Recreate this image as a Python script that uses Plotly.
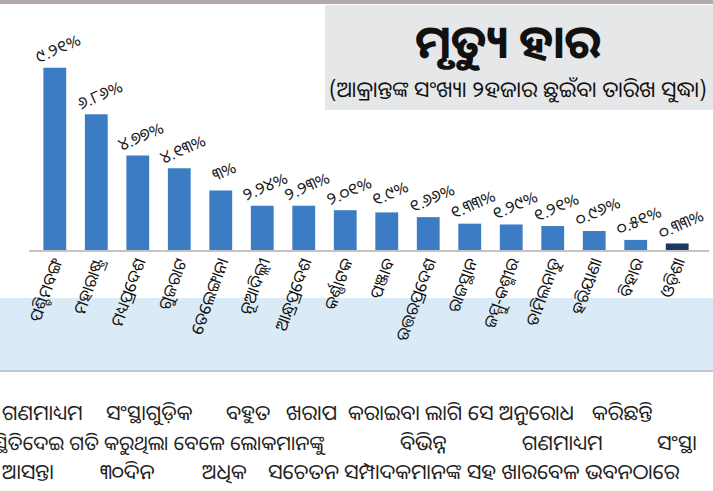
import plotly.graph_objects as go

states = ["ପଶ୍ଚିମବଙ୍ଗ", "ମହାରାଷ୍ଟ୍ର", "ମଧ୍ୟପ୍ରଦେଶ", "ଗୁଜରାଟ", "ତେଲେଙ୍ଗାନା", "ନୂଆଦିଲ୍ଲୀ",
          "ଆନ୍ଧ୍ରପ୍ରଦେଶ", "କର୍ଣ୍ଣାଟକ", "ପଞ୍ଜାବ", "ଉତ୍ତରପ୍ରଦେଶ", "ରାଜସ୍ଥାନ", "ଜମ୍ମୁ-କଶ୍ମୀର",
          "ତାମିଲନାଡୁ", "ହରିୟାଣା", "ବିହାର", "ଓଡ଼ିଶା"]
rates = [9.21, 6.86, 4.77, 4.13, 3.0, 2.24, 2.23, 2.01, 1.9, 1.66, 1.33, 1.29, 1.21, 0.96, 0.51, 0.33]
rate_labels = ["୯.୨୧%", "୬.୮୬%", "୪.୭୭%", "୪.୧୩%", "୩%", "୨.୨୪%", "୨.୨୩%", "୨.୦୧%", "୧.୯%",
               "୧.୬୬%", "୧.୩୩%", "୧.୨୯%", "୧.୨୧%", "୦.୯୬%", "୦.୫୧%", "୦.୩୩%"]
title_text = "ମୃତ୍ୟୁ ହାର"
subtitle_text = "(ଆକ୍ରାନ୍ତଙ୍କ ସଂଖ୍ୟା ୨ହଜାର ଛୁଇଁବା ତାରିଖ ସୁଦ୍ଧା)"
body_lines = [
    [("ଗଣମାଧ୍ୟମ", 0), ("ସଂସ୍ଥାଗୁଡ଼ିକ", 104), ("ବହୁତ", 224), ("ଖରାପ", 284),
     ("କରାଇବା ଲାଗି ସେ ଅନୁରୋଧ", 346), ("କରିଛନ୍ତି", 590)],
    [("ସ୍ଥିତିଦେଇ ଗତି କରୁଥିଲା ବେଳେ ଲୋକମାନଙ୍କୁ", -8),
     ("ବିଭିନ୍ନ", 398), ("ଗଣମାଧ୍ୟମ", 520), ("ସଂସ୍ଥା", 655)],
    [("ଆସନ୍ତା", 0), ("୩୦ଦିନ", 98), ("ଅଧିକ", 200), ("ସଚେତନ", 266),
     ("ସମ୍ପାଦକମାନଙ୍କ ସହ ଖାରବେଳ ଭବନଠାରେ", 342)],
]
body_y = [412, 442, 471]

FONT = "Noto Sans Oriya, Noto Sans, DejaVu Sans, sans-serif"
W, H = 713, 491
ML, MR, MT, MB = 29, 4, 52, 241
PW, PH = W - ML - MR, H - MT - MB

colors = ["#3b7cc4"] * (len(states) - 1) + ["#1b3a66"]

fig = go.Figure(go.Bar(x=states, y=rates, marker_color=colors, width=0.55))

for s, v, t in zip(states, rates, rate_labels):
    fig.add_annotation(x=s, y=v, text=t, showarrow=False, textangle=-24,
                       yshift=20, xshift=3, font=dict(size=17, color="#1a1a1a", family=FONT))

def px_x(x):
    return (x - ML) / PW
def px_y(y):
    return (H - MB - y) / PH

shapes = [
    dict(type="rect", xref="paper", yref="paper", x0=px_x(0), x1=px_x(W), y0=px_y(4), y1=px_y(0),
         fillcolor="#b3abab", line_width=0),
    dict(type="rect", xref="paper", yref="paper", x0=px_x(325), x1=px_x(W), y0=px_y(110), y1=px_y(5),
         fillcolor="#e6e7e8", line_width=0),
    dict(type="rect", xref="paper", yref="paper", x0=px_x(0), x1=px_x(W), y0=px_y(370), y1=px_y(298),
         fillcolor="#daeaf6", line_width=0, layer="below"),
    dict(type="line", xref="paper", yref="paper", x0=px_x(0), x1=px_x(W), y0=px_y(371), y1=px_y(371),
         line=dict(color="#c4c8cc", width=2)),
]

fig.add_annotation(xref="paper", yref="paper", x=px_x(508), y=px_y(40), xanchor="center", yanchor="middle",
                   text="<b>" + title_text + "</b>",
                   showarrow=False, font=dict(size=46, color="#111", family=FONT))
fig.add_annotation(xref="paper", yref="paper", x=px_x(518), y=px_y(88), xanchor="center", yanchor="middle",
                   text=subtitle_text,
                   showarrow=False, font=dict(size=22, color="#111", family=FONT))

for i, (line, y) in enumerate(zip(body_lines, body_y)):
    for word, x in line:
        size = 20 if (i == 1 and x < 0) else 21
        fig.add_annotation(xref="paper", yref="paper", x=px_x(x), y=px_y(y), text=word,
                           xanchor="left", yanchor="middle", showarrow=False,
                           font=dict(size=size, color="#222", family=FONT))

fig.update_layout(
    template="none",
    width=W, height=H,
    margin=dict(l=ML, r=MR, t=MT, b=MB, autoexpand=False),
    paper_bgcolor="white", plot_bgcolor="white",
    showlegend=False, shapes=shapes,
    xaxis=dict(tickangle=-70, tickfont=dict(size=17, color="#111", family=FONT),
               showline=True, linecolor="#c8c2c0", linewidth=2, ticks="", showgrid=False,
               ticklabelstandoff=-6, automargin=False),
    yaxis=dict(range=[0, 10], visible=False, showgrid=False, automargin=False),
)

fig.write_html("out.html", config={"displayModeBar": False},
               post_script="document.body.style.margin='0';document.body.style.overflow='hidden';")
